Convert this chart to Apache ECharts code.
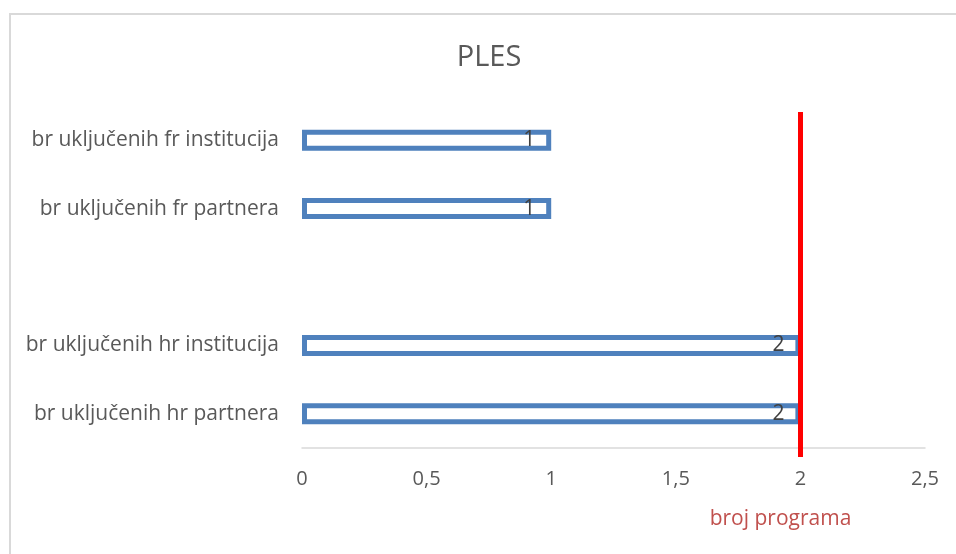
<!DOCTYPE html>
<html>
<head>
<meta charset="utf-8">
<script src="https://cdn.jsdelivr.net/npm/echarts@6/dist/echarts.min.js"></script>
<style>
html,body{margin:0;padding:0;background:#fff;overflow:hidden;}
#frame{position:absolute;left:9px;top:13px;width:1100px;height:700px;border:2px solid #d9d9d9;box-sizing:border-box;}
#chart{position:absolute;left:0;top:0;width:956px;height:554px;}
</style>
</head>
<body>
<div id="frame"></div>
<div id="chart"></div>
<script>
var categories = ['br uključenih hr partnera', 'br uključenih hr institucija', '', 'br uključenih fr partnera', 'br uključenih fr institucija'];
var values = [2, 2, null, 1, 1];
var xTicks = [0, 0.5, 1, 1.5, 2, 2.5];
var programCount = 2;
var titleText = 'PLES';
var xAxisName = 'broj programa';

var font = 'Open Sans';
var chart = echarts.init(document.getElementById('chart'));
chart.setOption({
  animation: false,
  title: {
    text: titleText,
    left: 484, top: 38, textAlign: 'center',
    textStyle: {fontFamily: font, fontSize: 29, fontWeight: 'normal', color: '#595959'}
  },
  grid: [
    {left: 302, top: 106, width: 623, height: 342, containLabel: false},
    {left: 302, top: 112, width: 623, height: 345, containLabel: false}
  ],
  xAxis: [{
    type: 'value', min: 0, max: 2.5, interval: 0.5, gridIndex: 0,
    name: xAxisName, nameLocation: 'middle', nameGap: 61,
    nameTextStyle: {fontFamily: font, fontSize: 21, color: '#C0504D', padding: [0, 0, 0, 334]},
    axisLine: {show: true, lineStyle: {color: '#d9d9d9', width: 1.5}},
    axisTick: {show: false},
    splitLine: {show: false},
    axisLabel: {
      fontFamily: font, fontSize: 20, color: '#595959', margin: 21,
      formatter: function (v) { return xTicks.indexOf(v) >= 0 ? String(v).replace('.', ',') : ''; }
    }
  }, {
    type: 'value', min: 0, max: 2.5, gridIndex: 1, show: false
  }],
  yAxis: [{
    type: 'category', data: categories, gridIndex: 0,
    axisLine: {show: false}, axisTick: {show: false},
    axisLabel: {fontFamily: font, fontSize: 21, color: '#595959', margin: 23}
  }, {
    type: 'category', data: categories, gridIndex: 1, show: false
  }],
  series: [{
    type: 'bar',
    data: values,
    barWidth: 21,
    itemStyle: {color: '#ffffff', borderColor: '#4F81BD', borderWidth: 5},
    label: {show: true, position: 'insideRight', distance: 16, fontFamily: font, fontSize: 21, color: '#404040'},
    z: 2
  }, {
    type: 'bar', xAxisIndex: 1, yAxisIndex: 1, data: [],
    markLine: {
      symbol: 'none', silent: true,
      label: {show: false},
      lineStyle: {color: '#FF0000', width: 5, type: 'solid'},
      data: [{xAxis: programCount}]
    },
    z: 5
  }]
});
</script>
</body>
</html>
